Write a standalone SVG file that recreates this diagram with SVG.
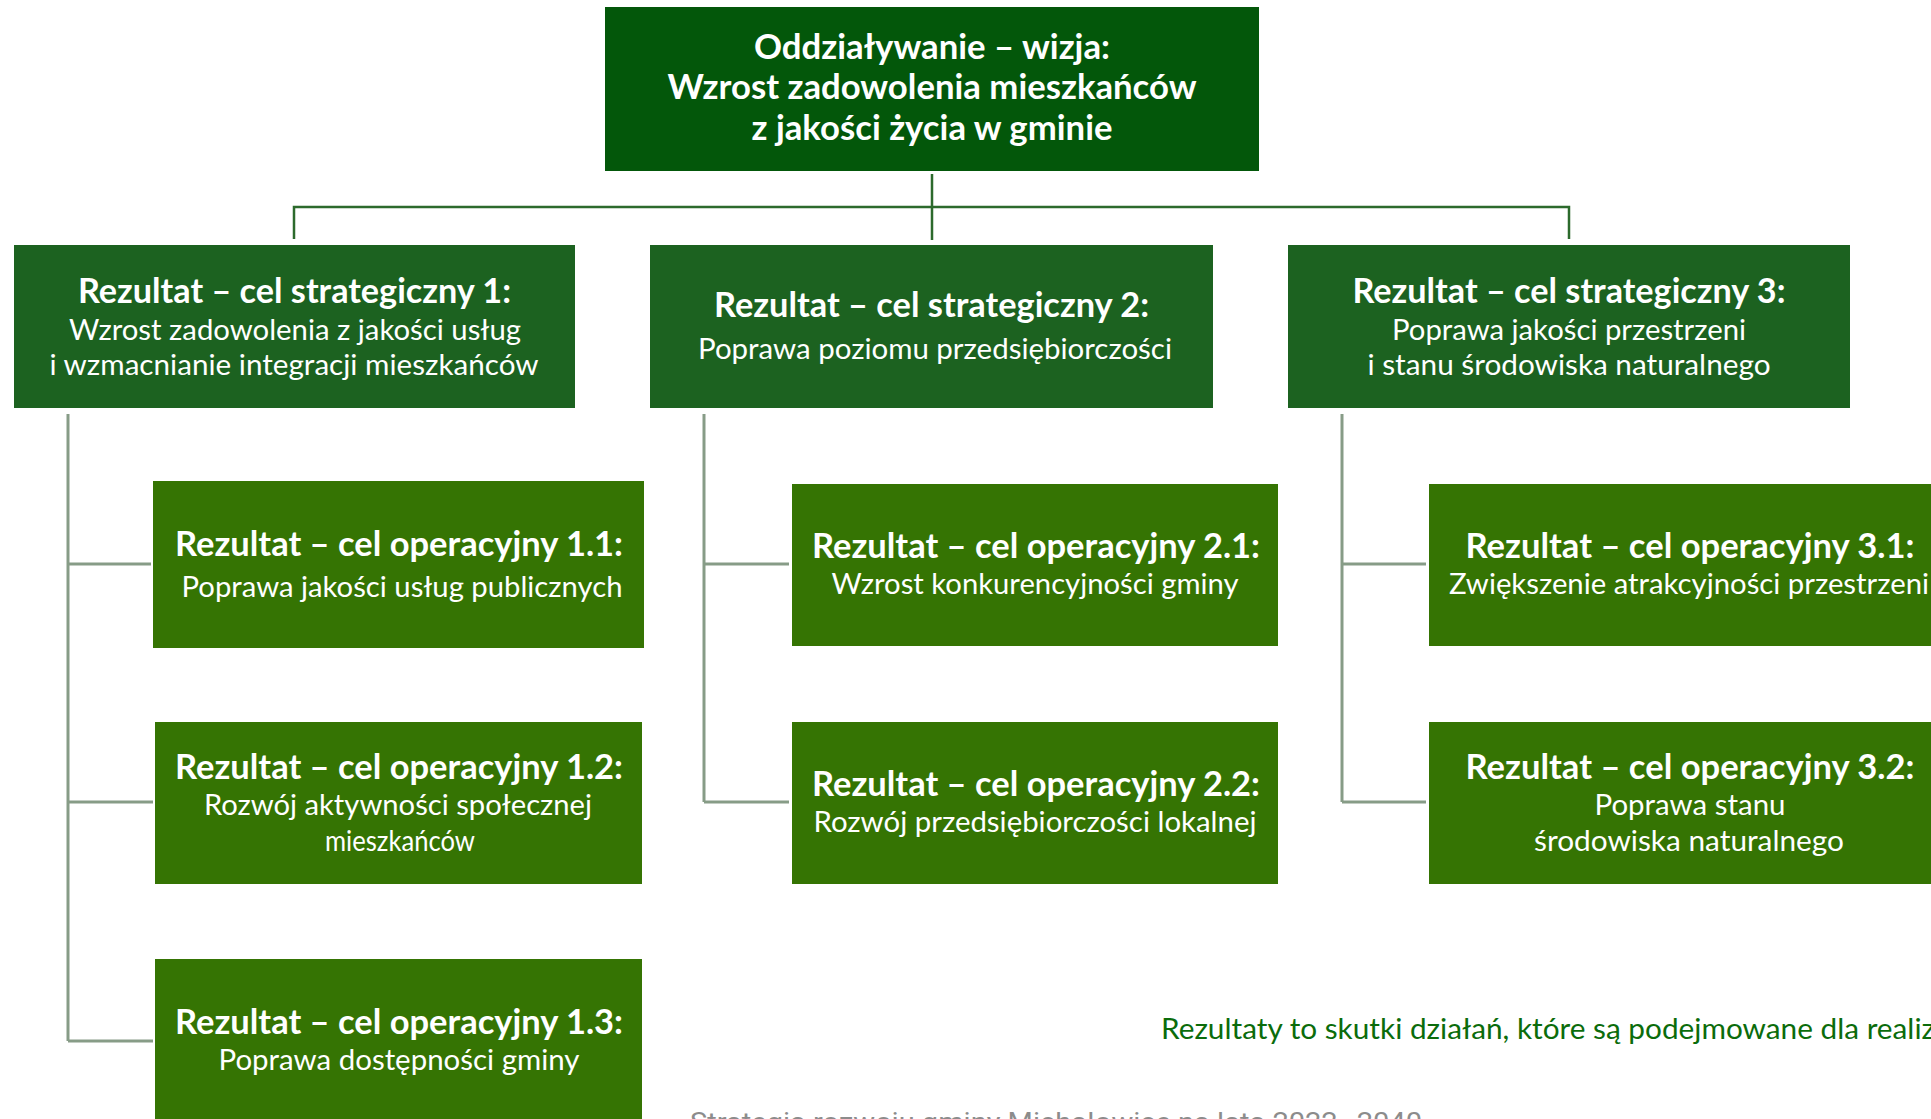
<svg xmlns="http://www.w3.org/2000/svg" width="1931" height="1119" viewBox="0 0 1931 1119">
<style>
.top{fill:#03570a}
.l2{fill:#1c6220}
.l3{fill:#357403}
.t{font-family:Lato,"Open Sans","Liberation Sans",sans-serif;fill:#ffffff;text-anchor:middle}
.b{font-weight:700;font-size:34px}
.r{font-weight:400;font-size:29px}
.c1{fill:none;stroke:#2c6a2c;stroke-width:2.5}
.c2{fill:none;stroke:#879c87;stroke-width:3}
.note{font-family:Lato,"Open Sans","Liberation Sans",sans-serif;font-size:29px;fill:#0b6c0b}
.src{font-family:Roboto,"Open Sans",sans-serif;font-size:25px;fill:#8c8c8c}
</style>
<rect width="1931" height="1119" fill="#ffffff"/>
<g id="connectors">
<path class="c1" d="M932 174V240M294 239V207H1569V239"/>
<path class="c2" d="M68 414V1041M68 564H151M68 802H153M68 1041H153"/>
<path class="c2" d="M704 414V802M704 564H789M704 802H789"/>
<path class="c2" d="M1342 414V802M1342 564H1426M1342 802H1426"/>
</g>
<g id="vision">
<rect class="top" x="605" y="7" width="654" height="164"/>
<text class="t b" x="932" y="59" textLength="356" lengthAdjust="spacingAndGlyphs">Oddziaływanie – wizja:</text>
<text class="t b" x="932" y="99" textLength="529" lengthAdjust="spacingAndGlyphs">Wzrost zadowolenia mieszkańców</text>
<text class="t b" x="932" y="140" textLength="361" lengthAdjust="spacingAndGlyphs">z jakości życia w gminie</text>
</g>
<g id="cs1">
<rect class="l2" x="14" y="245" width="561" height="163"/>
<text class="t b" x="294.5" y="303" textLength="433" lengthAdjust="spacingAndGlyphs">Rezultat – cel strategiczny 1:</text>
<text class="t r" x="295" y="340" textLength="452" lengthAdjust="spacingAndGlyphs">Wzrost zadowolenia z jakości usług</text>
<text class="t r" x="294" y="375" textLength="489" lengthAdjust="spacingAndGlyphs">i wzmacnianie integracji mieszkańców</text>
</g>
<g id="cs2">
<rect class="l2" x="650" y="245" width="563" height="163"/>
<text class="t b" x="931.5" y="317" textLength="435" lengthAdjust="spacingAndGlyphs">Rezultat – cel strategiczny 2:</text>
<text class="t r" x="935" y="359" textLength="474" lengthAdjust="spacingAndGlyphs">Poprawa poziomu przedsiębiorczości</text>
</g>
<g id="cs3">
<rect class="l2" x="1288" y="245" width="562" height="163"/>
<text class="t b" x="1569" y="303" textLength="433" lengthAdjust="spacingAndGlyphs">Rezultat – cel strategiczny 3:</text>
<text class="t r" x="1569" y="340" textLength="354" lengthAdjust="spacingAndGlyphs">Poprawa jakości przestrzeni</text>
<text class="t r" x="1569" y="375" textLength="403" lengthAdjust="spacingAndGlyphs">i stanu środowiska naturalnego</text>
</g>
<g id="co11">
<rect class="l3" x="153" y="481" width="491" height="167"/>
<text class="t b" x="399" y="556" textLength="448" lengthAdjust="spacingAndGlyphs">Rezultat – cel operacyjny 1.1:</text>
<text class="t r" x="402" y="597" textLength="441" lengthAdjust="spacingAndGlyphs">Poprawa jakości usług publicznych</text>
</g>
<g id="co12">
<rect class="l3" x="155" y="722" width="487" height="162"/>
<text class="t b" x="399" y="779" textLength="448" lengthAdjust="spacingAndGlyphs">Rezultat – cel operacyjny 1.2:</text>
<text class="t r" x="398" y="815" textLength="388" lengthAdjust="spacingAndGlyphs">Rozwój aktywności społecznej</text>
<text class="t r" x="400" y="851" textLength="150" lengthAdjust="spacingAndGlyphs">mieszkańców</text>
</g>
<g id="co13">
<rect class="l3" x="155" y="959" width="487" height="170"/>
<text class="t b" x="399" y="1034" textLength="448" lengthAdjust="spacingAndGlyphs">Rezultat – cel operacyjny 1.3:</text>
<text class="t r" x="399" y="1070" textLength="361" lengthAdjust="spacingAndGlyphs">Poprawa dostępności gminy</text>
</g>
<g id="co21">
<rect class="l3" x="792" y="484" width="486" height="162"/>
<text class="t b" x="1036" y="558" textLength="448" lengthAdjust="spacingAndGlyphs">Rezultat – cel operacyjny 2.1:</text>
<text class="t r" x="1035" y="594" textLength="407" lengthAdjust="spacingAndGlyphs">Wzrost konkurencyjności gminy</text>
</g>
<g id="co22">
<rect class="l3" x="792" y="722" width="486" height="162"/>
<text class="t b" x="1036" y="796" textLength="448" lengthAdjust="spacingAndGlyphs">Rezultat – cel operacyjny 2.2:</text>
<text class="t r" x="1035" y="832" textLength="443" lengthAdjust="spacingAndGlyphs">Rozwój przedsiębiorczości lokalnej</text>
</g>
<g id="co31">
<rect class="l3" x="1429" y="484" width="522" height="162"/>
<text class="t b" x="1690" y="558" textLength="449" lengthAdjust="spacingAndGlyphs">Rezultat – cel operacyjny 3.1:</text>
<text class="t r" x="1689" y="594" textLength="480" lengthAdjust="spacingAndGlyphs">Zwiększenie atrakcyjności przestrzeni</text>
</g>
<g id="co32">
<rect class="l3" x="1429" y="722" width="522" height="162"/>
<text class="t b" x="1690" y="779" textLength="449" lengthAdjust="spacingAndGlyphs">Rezultat – cel operacyjny 3.2:</text>
<text class="t r" x="1690" y="815" textLength="191" lengthAdjust="spacingAndGlyphs">Poprawa stanu</text>
<text class="t r" x="1689" y="851" textLength="310" lengthAdjust="spacingAndGlyphs">środowiska naturalnego</text>
</g>
<text class="note" x="1161" y="1039" textLength="774" lengthAdjust="spacingAndGlyphs">Rezultaty to skutki działań, które są podejmowane dla realiz</text>
<text class="src" x="690" y="1131" textLength="732" lengthAdjust="spacingAndGlyphs">Strategia rozwoju gminy Michałowice na lata 2022–2040</text>
</svg>
